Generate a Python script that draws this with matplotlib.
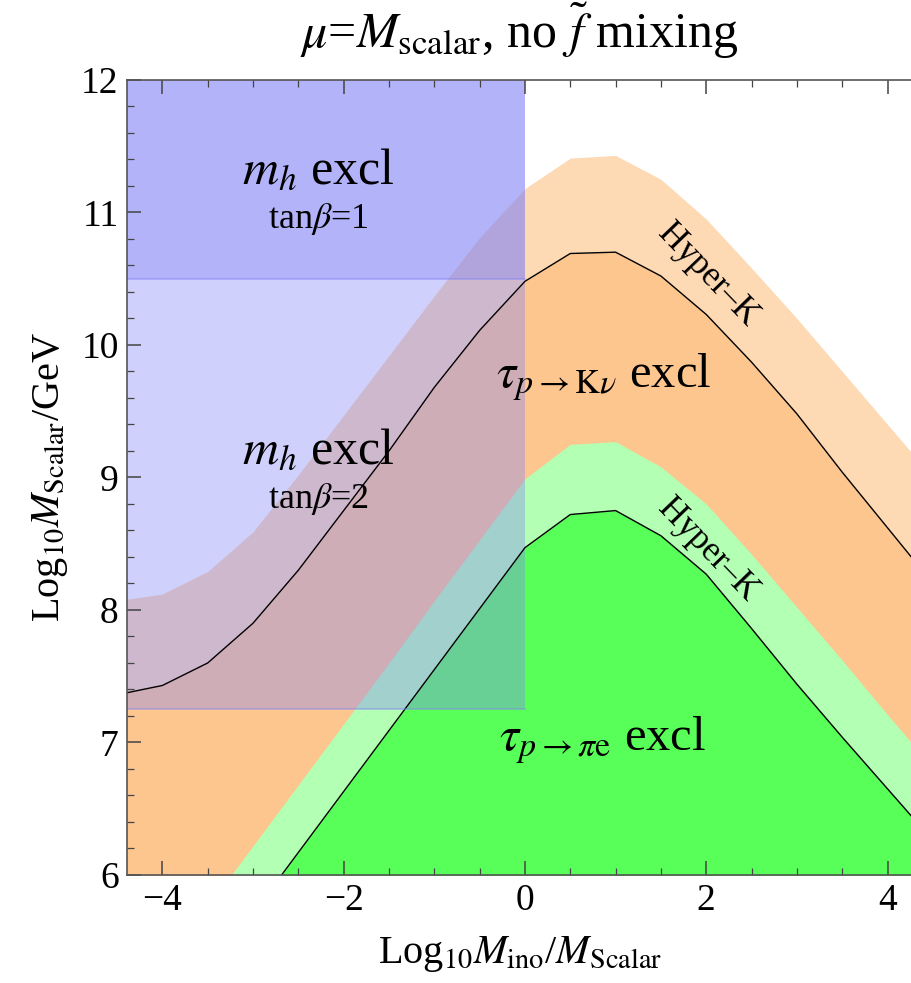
import matplotlib
matplotlib.use('Agg')
import matplotlib.pyplot as plt

# Log10(M_ino/M_scalar) sample points
x_kv = [-4.5, -4, -3.5, -3, -2.5, -2, -1.5, -1, -0.5, 0, 0.5, 1, 1.5, 2, 2.5, 3, 3.5, 4, 4.5]
# p -> K nu : current limit and Hyper-K reach (Log10 M_scalar/GeV)
kv_limit = [7.36, 7.43, 7.60, 7.90, 8.30, 8.75, 9.20, 9.68, 10.11, 10.48, 10.69, 10.70,
            10.52, 10.23, 9.87, 9.48, 9.04, 8.62, 8.20]
kv_hyperk = [8.07, 8.12, 8.29, 8.59, 9.02, 9.47, 9.92, 10.37, 10.81, 11.18, 11.41, 11.43,
             11.25, 10.95, 10.58, 10.20, 9.80, 9.40, 9.00]

# p -> pi e : current limit and Hyper-K reach
x_pe = [-3.5, -3, -2.5, -2, -1.5, -1, -0.5, 0, 0.5, 1, 1.5, 2, 2.5, 3, 3.5, 4, 4.5]
pe_limit = [5.25, 5.71, 6.17, 6.63, 7.09, 7.55, 8.01, 8.47, 8.72, 8.75, 8.56, 8.27,
            7.86, 7.44, 7.04, 6.65, 6.26]
pe_hyperk = [5.76, 6.22, 6.68, 7.14, 7.60, 8.07, 8.53, 8.99, 9.25, 9.27, 9.08, 8.80,
             8.42, 8.02, 7.62, 7.21, 6.81]

# Higgs mass exclusion boxes (x range, lower edge in Log10 M_scalar)
x_mh = [-4.5, 0]
mh_tb2_low = 7.25
mh_tb1_low = 10.5
y_top = 12

plt.rcParams['font.family'] = ['Liberation Serif', 'DejaVu Serif']
plt.rcParams['mathtext.fontset'] = 'stix'

fig = plt.figure(figsize=(9.12, 9.83), dpi=100)
ax = fig.add_axes([0.1393, 0.1099, 0.8607, 0.8088])

floor = 5.0
# proton decay regions: orange for K nu, green for pi e
ax.fill_between(x_kv, floor, kv_hyperk, color='#fdd9b4', lw=0)
ax.fill_between(x_kv, floor, kv_limit, color='#fdc68f', lw=0)
ax.fill_between(x_pe, floor, pe_hyperk, color='#b3ffb3', lw=0)
ax.fill_between(x_pe, floor, pe_limit, color='#58ff58', lw=0)
ax.plot(x_kv, kv_limit, color='black', lw=1.0)
ax.plot(x_pe, pe_limit, color='black', lw=1.0)

# m_h exclusion, drawn on top as translucent blue
blue = (133 / 255, 134 / 255, 247 / 255)
for low in (mh_tb2_low, mh_tb1_low):
    ax.fill_between(x_mh, low, y_top, facecolor=blue + (0.39,), edgecolor='none')
    ax.plot(x_mh, [low, low], color=blue, alpha=0.55, lw=1.2)

ax.set_xlim(-4.39, 4.27)
ax.set_ylim(6, 12)

ax.text(-2.28, 11.31, r'$m_h$ excl', fontsize=36, ha='center', va='center')
ax.text(-2.28, 10.95, r'tan$\beta$=1', fontsize=26, ha='center', va='center')
ax.text(-2.28, 9.20, r'$m_h$ excl', fontsize=36, ha='center', va='center')
ax.text(-2.28, 8.84, r'tan$\beta$=2', fontsize=26, ha='center', va='center')
ax.text(0.87, 9.76, r'$\tau_{p\rightarrow \mathrm{K}\nu}$ excl', fontsize=35,
        ha='center', va='center')
ax.text(0.86, 7.02, r'$\tau_{p\rightarrow \pi\mathrm{e}}$ excl', fontsize=35,
        ha='center', va='center')
ax.text(2.02, 10.53, 'Hyper–K', fontsize=25, rotation=-46, ha='center', va='center',
        rotation_mode='anchor')
ax.text(2.02, 8.45, 'Hyper–K', fontsize=25, rotation=-46, ha='center', va='center',
        rotation_mode='anchor')

ax.set_title(r'$\mu$=$M_{\mathrm{scalar}}$, no $\tilde{f}$ mixing', fontsize=36, pad=23)
ax.set_xlabel(r'Log$_{10}$$M_{\mathrm{ino}}$/$M_{\mathrm{Scalar}}$', fontsize=29, labelpad=12)
ax.set_ylabel(r'Log$_{10}$$M_{\mathrm{Scalar}}$/GeV', fontsize=29, labelpad=8)

ax.set_xticks([-4, -2, 0, 2, 4])
ax.set_xticks([v / 2 for v in range(-8, 9)], minor=True)
ax.set_yticks(range(6, 13))
ax.set_yticks([6 + v * 0.2 for v in range(31)], minor=True)
ax.set_xticklabels(['−4', '−2', '0', '2', '4'])
ax.tick_params(which='both', direction='in', top=True, right=False, colors='#444444',
               labelcolor='black', labelsize=27)
ax.tick_params(axis='x', pad=6)
ax.tick_params(axis='y', pad=6)
ax.tick_params(which='major', length=10, width=1.1)
ax.tick_params(which='minor', length=5, width=0.9)
for side in ('left', 'bottom', 'top'):
    ax.spines[side].set_color('#555555')
    ax.spines[side].set_linewidth(1.2)
ax.spines['right'].set_visible(False)

fig.savefig('out.png', dpi=100)
